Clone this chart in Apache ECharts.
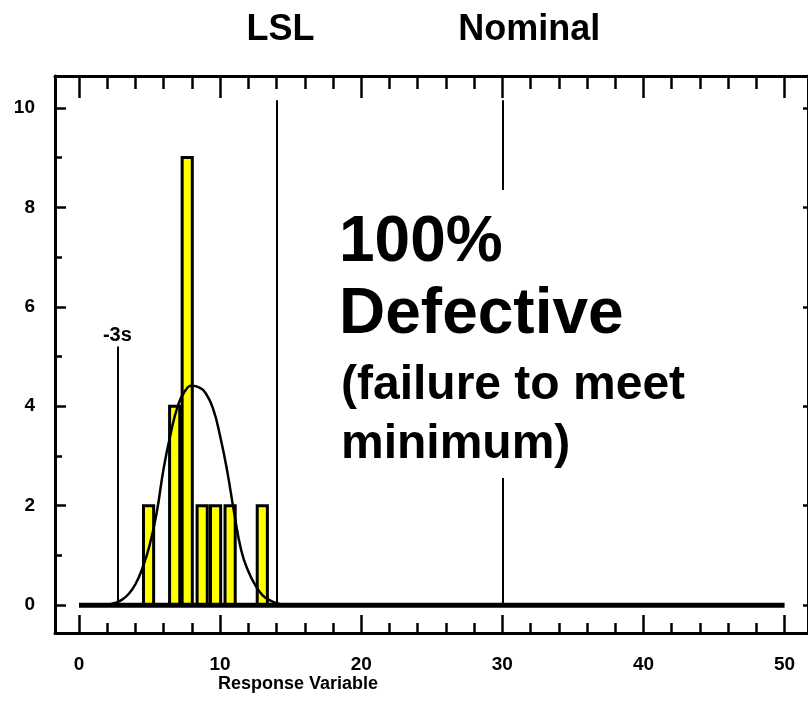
<!DOCTYPE html>
<html><head><meta charset="utf-8">
<script src="https://cdn.jsdelivr.net/npm/echarts@6/dist/echarts.min.js"></script>
<style>html,body{margin:0;padding:0;background:#fff}#c{width:808px;height:721px}</style>
</head><body><div id="c"></div>
<script>
// ---- data ----
const binCenters = [4.93, 6.78, 7.67, 8.73, 9.68, 10.71, 12.99];
const binCounts  = [2, 4, 9, 2, 2, 2, 2];
const curveX = [1.5, 2.0, 2.5, 3.0, 3.5, 4.0, 4.5, 5.0, 5.5, 6.0, 6.5, 7.0, 7.5, 8.0, 8.5, 9.0, 9.5, 10.0, 10.5, 11.0, 11.5, 12.0, 12.5, 13.0, 13.5, 14.0, 14.5, 15.0];
const curveY = [0, 0.01, 0.04, 0.1, 0.22, 0.42, 0.75, 1.2, 1.85, 2.75, 3.45, 4.0, 4.3, 4.41, 4.38, 4.25, 3.95, 3.4, 2.7, 1.85, 1.1, 0.68, 0.4, 0.2, 0.1, 0.04, 0.01, 0];
const baselineX = [0, 50];
const baselineY = [0, 0];
const xMajorTicks = [0, 10, 20, 30, 40, 50];
const xMinorTicks = [0, 2, 4, 6, 8, 10, 12, 14, 16, 18, 20, 22, 24, 26, 28, 30, 32, 34, 36, 38, 40, 42, 44, 46, 48, 50];
const yMajorTicks = [0, 2, 4, 6, 8, 10];
const yMinorTicks = [0, 1, 2, 3, 4, 5, 6, 7, 8, 9, 10];
const refLabels = ['-3s', 'LSL', 'Nominal'];
const refX      = [2.72, 14, 30];
const refTop    = [5.2, 10.15, 10.15];
const xName = 'Response Variable';
const bigText = ['100%', 'Defective', '(failure to meet', 'minimum)'];

// ---- chart ----
const FONT = "'Liberation Sans', Arial, Helvetica, sans-serif";
const X_MIN = -1.70, X_MAX = 51.66, Y_MIN = -0.56, Y_MAX = 10.64;
const BAR_HALF = 0.36;
const gridBox = {left: 55, top: 76, width: 755, height: 557};
const grids = [0,1,2,3].map(() => Object.assign({}, gridBox));

function xAxis(gi, pos, showLine, ticks, len, labels) {
  return {
    type: 'value', gridIndex: gi, position: pos, min: X_MIN, max: X_MAX,
    splitLine: {show: false},
    axisLine: {show: showLine, onZero: false, lineStyle: {color: '#000', width: 3}},
    axisTick: {show: true, inside: true, length: len, customValues: ticks, lineStyle: {color: '#000', width: 2.5}},
    axisLabel: labels ? {show: true, customValues: labels, margin: 22, color: '#000', fontWeight: 'bold', fontSize: 19, fontFamily: FONT} : {show: false}
  };
}
function yAxis(gi, pos, showLine, ticks, len, labels) {
  return {
    type: 'value', gridIndex: gi, position: pos, min: Y_MIN, max: Y_MAX,
    splitLine: {show: false},
    axisLine: {show: showLine, onZero: false, lineStyle: {color: '#000', width: 3}},
    axisTick: {show: ticks.length > 0, inside: true, length: len, customValues: ticks, lineStyle: {color: '#000', width: 2.5}},
    axisLabel: labels ? {show: true, customValues: labels, margin: 20, color: '#000', fontWeight: 'bold', fontSize: 19, fontFamily: FONT} : {show: false}
  };
}

const markData = refLabels.map((lab, i) => {
  const big = i > 0;
  return [
    {coord: [refX[i], 0],
     label: {show: true, position: 'end', formatter: lab, color: '#000', fontWeight: 'bold',
             fontFamily: FONT, fontSize: big ? 36 : 20,
             distance: big ? 52 : 1, offset: i === 2 ? [27, 0] : (i === 1 ? [4, 0] : [0, 0])}},
    {coord: [refX[i], refTop[i]]}
  ];
});

const option = {
  animation: false,
  backgroundColor: '#fff',
  grid: grids,
  xAxis: [
    xAxis(0, 'bottom', true, xMajorTicks, 18, xMajorTicks),
    xAxis(1, 'bottom', false, xMinorTicks, 10, null),
    xAxis(2, 'top', true, xMajorTicks, 22, null),
    xAxis(3, 'top', false, xMinorTicks, 13, null)
  ],
  yAxis: [
    yAxis(0, 'left', true, yMajorTicks, 11, yMajorTicks),
    yAxis(1, 'left', false, yMinorTicks, 7, null),
    yAxis(2, 'right', true, yMajorTicks, 5, null),
    yAxis(3, 'right', false, [], 0, null)
  ],
  series: [
    {
      type: 'custom', xAxisIndex: 0, yAxisIndex: 0, z: 2,
      data: binCenters.map((x, i) => [x, binCounts[i]]),
      renderItem: function (params, api) {
        const x = api.value(0), y = api.value(1);
        const p0 = api.coord([x - BAR_HALF, 0]);
        const p1 = api.coord([x + BAR_HALF, y]);
        return {type: 'rect',
                shape: {x: p0[0], y: p1[1], width: p1[0] - p0[0], height: p0[1] - p1[1]},
                style: {fill: '#FFFF00', stroke: '#000', lineWidth: 3}};
      }
    },
    {
      type: 'line', xAxisIndex: 0, yAxisIndex: 0, z: 3, symbol: 'none', smooth: 0.5,
      lineStyle: {color: '#000', width: 2.5},
      data: curveX.map((x, i) => [x, curveY[i]])
    },
    {
      type: 'line', xAxisIndex: 0, yAxisIndex: 0, z: 4, symbol: 'none',
      lineStyle: {color: '#000', width: 5},
      data: baselineX.map((x, i) => [x, baselineY[i]]),
      markLine: {symbol: 'none', silent: true, animation: false,
                 lineStyle: {color: '#000', width: 2, type: 'solid'},
                 data: markData}
    }
  ],
  graphic: [
    {type: 'rect', z: 100, shape: {x: 338, y: 190, width: 355, height: 288}, style: {fill: '#fff'}},
    {type: 'text', z: 101, x: 339, y: 243, style: {text: bigText[0], font: 'bold 64px ' + FONT, fill: '#000', textVerticalAlign: 'middle'}},
    {type: 'text', z: 101, x: 339, y: 315, style: {text: bigText[1], font: 'bold 64px ' + FONT, fill: '#000', textVerticalAlign: 'middle'}},
    {type: 'text', z: 101, x: 341, y: 386, style: {text: bigText[2], font: 'bold 48px ' + FONT, fill: '#000', textVerticalAlign: 'middle'}},
    {type: 'text', z: 101, x: 341, y: 445, style: {text: bigText[3], font: 'bold 48px ' + FONT, fill: '#000', textVerticalAlign: 'middle'}},
    {type: 'text', z: 101, x: 298, y: 684, style: {text: xName, font: 'bold 18px ' + FONT, fill: '#000', textAlign: 'center', textVerticalAlign: 'middle'}}
  ]
};
const chart = echarts.init(document.getElementById('c'), null, {renderer: 'canvas'});
chart.setOption(option);
</script></body></html>
